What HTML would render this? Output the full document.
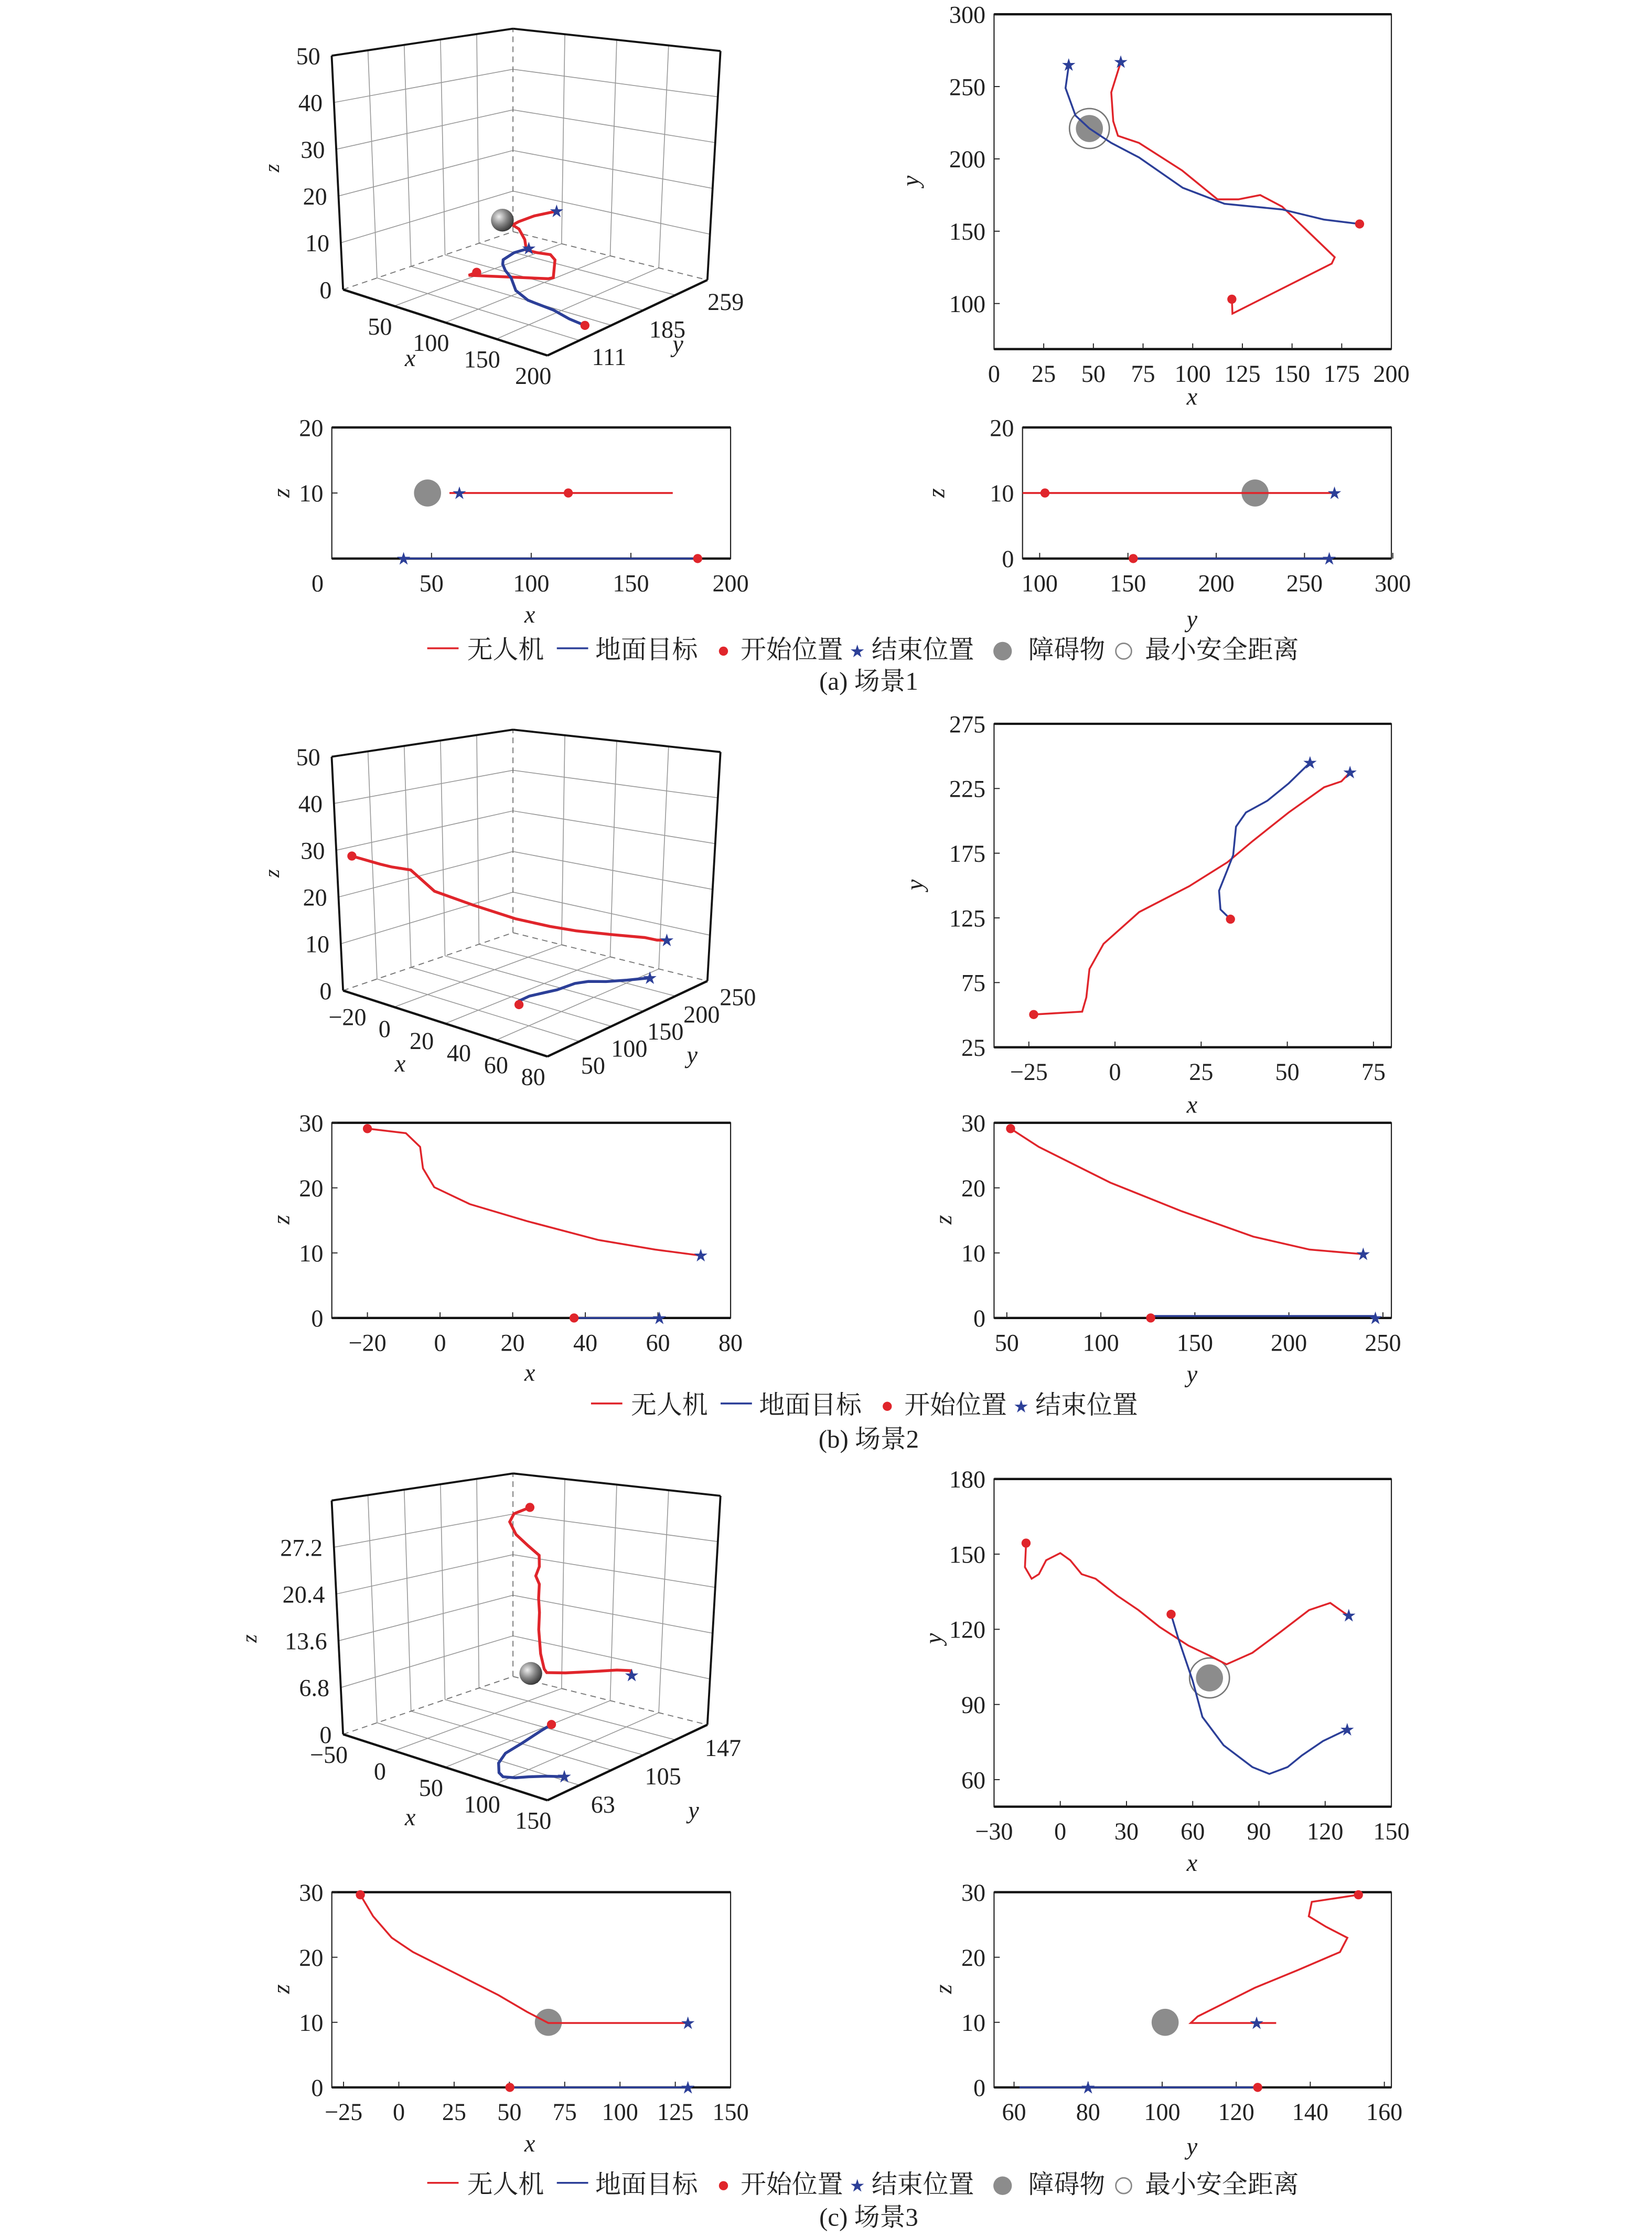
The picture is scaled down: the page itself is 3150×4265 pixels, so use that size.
<!DOCTYPE html>
<html><head><meta charset="utf-8">
<style>
html,body{margin:0;padding:0;background:#fff;}
svg{display:block;}
text{font-family:"Liberation Serif","Noto Serif CJK SC","Noto Sans CJK SC",serif;fill:#222;}
</style></head>
<body>
<svg id="fig" xmlns="http://www.w3.org/2000/svg" width="3150" height="4265" viewBox="0 0 1160 1570" preserveAspectRatio="none">
<defs>
<radialGradient id="sph" cx="0.35" cy="0.35" r="0.7">
<stop offset="0" stop-color="#eee"/><stop offset="0.5" stop-color="#888"/><stop offset="1" stop-color="#333"/>
</radialGradient>
</defs>
</svg>
<script>
// ---------- Scenario 1 data ----------
const a_uavX=[119.7,120,170,171.5,145,134,123,112.5,94.6,73,62.4,60,59,63.8];
const a_uavY=[103,93,127.6,132,167,175,172,172,192,211,216,226,246,267];
const a_uavZ=[10,10,10,10,10,10,10,10,10,10,10,10,10,10];
const a_tgtX=[184,166,145,123,116,95,73,59,48,41,36,37.6];
const a_tgtY=[155,158,165,168,169,180,201,211,221,230,249,265];
const a_tgtZ=[0,0,0,0,0,0,0,0,0,0,0,0];
const a_obs=[48,221,10];
// ---------- Scenario 2 data ----------
const b_uavX=[-23.6,-9.5,-8.3,-7.4,-3.3,7,21.5,32.6,40,50.4,60.7,65.7,68.2];
const b_uavY=[50.3,52.5,63.5,85.5,105,129.5,149.5,168,184.5,206.5,226,230.5,237.5];
const b_uavZ=[29.1,28.4,27.5,26,21,17.8,15.2,13.6,12.4,11.3,10.4,10,9.8];
const b_tgtX=[33.5,30.6,30.2,32.6,34.3,35.1,38,44.2,50.4,56.6];
const b_tgtY=[124,131.5,146,162,173.5,195.5,206.5,215.5,229,245];
const b_tgtZ=[0,0,0,0,0,0,0,0,0,0];
const b_xzX=[-20,-9.4,-5.5,-4.7,-1.6,8.2,23.9,43.5,59.2,71.8];
const b_xzZ=[29.1,28.4,26.3,23,20.1,17.5,14.9,12,10.5,9.6];
const b_yzY=[52,67,105,143,181,211,239.5];
const b_yzZ=[29.1,26.3,20.8,16.4,12.5,10.5,9.8];
// ---------- Scenario 3 data ----------
const c_uavX=[-15.5,-16,-13,-9.7,-6.4,0,4.5,9.7,16,25.8,35.4,45,58,67.6,75.3,87,99.8,112.7,122.3,128.8,130.7];
const c_uavY=[154.4,144.8,140.2,142,147.6,150.4,147.6,142,140.2,133.4,127.7,120.9,113.5,109.5,106,110.6,119,127.7,130.5,126.5,125.5];
const c_uavZ=[29.6,29,28,26,24,22.5,21,20,19,17.5,16,14.2,11.6,10,10,10,10,10,10,10,10];
const c_tgtX=[50.2,53.4,60,64.4,74,87,94.7,103,109.5,119,130];
const c_tgtY=[126,116.5,99.4,85,73.7,65,62.3,65,69.7,75.4,80];
const c_tgtZ=[0,0,0,0,0,0,0,0,0,0,0];
const c_xzX=[-17.4,-11.6,-3.2,6.4,25.8,45,58,67.6,130.7];
const c_xzZ=[29.6,26.3,23,20.8,17.5,14.2,11.6,9.9,9.9];
const c_yzY=[153,140.4,139.6,144.2,150,148,136.5,125,117.3,109.6,107.7,130.8];
const c_yzZ=[29.6,28.5,26.3,24.7,23,20.8,18,15.3,13.1,10.9,9.9,9.9];
const c_obs=[67.6,100.6,10];

const NS='http://www.w3.org/2000/svg';
const svg=document.getElementById('fig');
function el(tag,attrs,parent){const e=document.createElementNS(NS,tag);for(const k in attrs)e.setAttribute(k,attrs[k]);(parent||svg).appendChild(e);return e;}
function txt(s,x,y,size,parent,anchor,italic){const t=el('text',{x:x,y:y,'font-size':size,'text-anchor':anchor||'middle'},parent);if(italic)t.setAttribute('font-style','italic');t.textContent=s;return t;}
const RED='#e0252b',BLUE='#2c3f98';

function star(x,y,parent){const t=txt('★',x,y+3.5,10,parent);t.setAttribute('fill',BLUE);t.setAttribute('style','fill:'+BLUE);

return t;}
function dot(x,y,parent){const c=el('circle',{cx:x,cy:y,r:3.2,fill:RED},parent);

return c;}

// ---------- 2D plot ----------
function plot2d(c){
  const g=el('g',{});
  
  
  const sx=v=>c.x0+(v-c.xmin)/(c.xmax-c.xmin)*(c.x1-c.x0);
  const sy=v=>c.y1-(v-c.ymin)/(c.ymax-c.ymin)*(c.y1-c.y0);
  const fr=el('rect',{x:c.x0,y:c.y0,width:c.x1-c.x0,height:c.y1-c.y0,fill:'none',stroke:'#222','stroke-width':0.8},g);
  
  
  const tb=el('line',{x1:c.x0,x2:c.x1,y1:c.y0,y2:c.y0,stroke:'#111','stroke-width':1.6},g);
  
  
  const bb=el('line',{x1:c.x0,x2:c.x1,y1:c.y1,y2:c.y1,stroke:'#111','stroke-width':1.6},g);
  
  
  c.xticks.forEach(v=>{
    const X=sx(v);
    const tk=el('line',{x1:X,x2:X,y1:c.y1,y2:c.y1-4,stroke:'#222','stroke-width':0.7},g);
    
    
    const t=txt(String(v).replace('-','−'),X,c.y1+23,17,g);
    
    
  });
  c.yticks.forEach(v=>{
    const Y=sy(v);
    const tk=el('line',{x1:c.x0,x2:c.x0+4,y1:Y,y2:Y,stroke:'#222','stroke-width':0.7},g);
    
    
    const t=txt(String(v),c.x0-6,Y+6,17,g,'end');
    
    
  });
  const xl=txt(c.xlabel,c.xlx,c.xly,17,g,'middle',true);
  
  
  const yl=txt(c.ylabel,0,0,17,g,'middle',true);
  yl.setAttribute('transform','translate('+c.ylx+','+c.yly+') rotate(-90)');
  
  
  const clip='clip'+c.name;
  const cp=el('clipPath',{id:clip},g);el('rect',{x:c.x0,y:c.y0-4,width:c.x1-c.x0,height:c.y1-c.y0+8},cp);
  (c.obs||[]).forEach(o=>{
    if(o.safe){const s=el('circle',{cx:sx(o.x),cy:sy(o.y),r:14,fill:'none',stroke:'#777','stroke-width':1},g);
      
      }
    const ob=el('circle',{cx:sx(o.x),cy:sy(o.y),r:9.5,fill:'#8c8c8c'},g);
    
    
  });
  c.series.forEach(s=>{
    const d=s.xs.map((v,i)=>(i?'L':'M')+sx(v).toFixed(1)+','+sy(s.ys[i]).toFixed(1)).join('');
    const p=el('path',{d:d,fill:'none',stroke:s.color,'stroke-width':1.3,'clip-path':'url(#'+clip+')'},g);
    
    
    if(s.start){dot(sx(s.start[0]),sy(s.start[1]),g);}
    if(s.end){star(sx(s.end[0]),sy(s.end[1]),g);}
  });
}

// ---------- 3D plot ----------
const BOT=[[240.9,203.2],[384.4,249.5],[496.7,196.5],[360.2,162.6]];
const TOP=[[232.9,39.1],[378.6,54.8],[505.9,35.8],[360.2,20.1]];
function bil(C,u,v){return [
  C[0][0]*(1-u)*(1-v)+C[1][0]*u*(1-v)+C[2][0]*u*v+C[3][0]*(1-u)*v,
  C[0][1]*(1-u)*(1-v)+C[1][1]*u*(1-v)+C[2][1]*u*v+C[3][1]*(1-u)*v];}
function plot3d(c){
  const g=el('g',{transform:'translate(0,'+c.dy+')'});
  
  
  const P=(x,y,z)=>{const u=(x-c.xmin)/(c.xmax-c.xmin),v=(y-c.ymin)/(c.ymax-c.ymin),w=(z-c.zmin)/(c.zmax-c.zmin);
    const b=bil(BOT,u,v),t=bil(TOP,u,v);return [b[0]+(t[0]-b[0])*w,b[1]+(t[1]-b[1])*w];};
  const Q=(u,v,w)=>{const b=bil(BOT,u,v),t=bil(TOP,u,v);return [b[0]+(t[0]-b[0])*w,b[1]+(t[1]-b[1])*w];};
  function ln(p,q,col,wd,dash,name){const l=el('line',{x1:p[0],y1:p[1],x2:q[0],y2:q[1],stroke:col,'stroke-width':wd},g);
    if(dash)l.setAttribute('stroke-dasharray',dash);
    
    }
  const G='#999';
  const fr=[0.2,0.4,0.6,0.8];
  const zg=c.zgrid.map(z=>(z-c.zmin)/(c.zmax-c.zmin));
  fr.forEach(f=>{ln(Q(0,f,0),Q(0,f,1),G,0.6,null,'wall-grid-line');});
  [0.25,0.5,0.75].forEach(f=>{ln(Q(f,1,0),Q(f,1,1),G,0.6,null,'wall-grid-line');});
  zg.forEach(w=>{if(w>0&&w<1){ln(Q(0,0,w),Q(0,1,w),G,0.6,null,'wall-grid-line');ln(Q(0,1,w),Q(1,1,w),G,0.6,null,'wall-grid-line');}});
  [0.25,0.5,0.75].forEach(f=>{ln(Q(f,0,0),Q(f,1,0),G,0.6,null,'floor-grid-line');});
  fr.forEach(f=>{ln(Q(0,f,0),Q(1,f,0),G,0.6,null,'floor-grid-line');});
  ln(Q(0,0,0),Q(0,1,0),'#777',0.7,'4,3','floor-edge');
  ln(Q(0,1,0),Q(1,1,0),'#777',0.7,'4,3','floor-edge');
  ln(Q(0,1,0),Q(0,1,1),'#777',0.7,'4,3','back-edge');
  ln(Q(0,0,0),Q(0,0,1),'#111',1.4,null,'z-axis-line');
  ln(Q(0,0,1),Q(0,1,1),'#111',1.4,null,'top-edge');
  ln(Q(0,1,1),Q(1,1,1),'#111',1.4,null,'top-edge');
  ln(Q(1,1,1),Q(1,1,0),'#111',1.4,null,'right-edge');
  ln(Q(0,0,0),Q(1,0,0),'#111',1.6,null,'x-axis-line');
  ln(Q(1,0,0),Q(1,1,0),'#111',1.6,null,'y-axis-line');
  c.zticks.forEach(z=>{const p=P(c.xmin,c.ymin,z);const t=txt(String(z),p[0]-8,p[1]+6,17,g,'end');
    
    });
  c.xticks.forEach(x=>{const p=P(x,c.ymin,0);const t=txt(String(x).replace('-','−'),p[0]-10,p[1]+20,17,g,'middle');
    
    });
  c.yticks.forEach(y=>{const p=P(c.xmax,y,0);const t=txt(String(y),p[0]+30,p[1]+13,17,g,'middle');
    
    });
  const xl=txt('x',c.xl[0],c.xl[1]-c.dy,17,g,'middle',true);
  
  
  const yl=txt('y',c.yl[0],c.yl[1]-c.dy,17,g,'middle',true);
  
  
  const zl=txt('z',0,0,15,g,'middle',true);
  zl.setAttribute('transform','translate('+c.zl[0]+','+(c.zl[1]-c.dy)+') rotate(-90)');
  
  
  c.series.forEach(s=>{
    const d=s.xs.map((v,i)=>{const p=P(v,s.ys[i],s.zs[i]);return (i?'L':'M')+p[0].toFixed(1)+','+p[1].toFixed(1);}).join('');
    const pa=el('path',{d:d,fill:'none',stroke:s.color,'stroke-width':2},g);
    
    
    const p0=P(s.xs[0],s.ys[0],s.zs[0]);dot(p0[0],p0[1],g);
    const n=s.xs.length-1;const p1=P(s.xs[n],s.ys[n],s.zs[n]);star(p1[0],p1[1],g);
  });
  if(c.obs){const p=P(c.obs[0],c.obs[1],c.obs[2]);const o=el('circle',{cx:p[0],cy:p[1],r:8,fill:'url(#sph)'},g);
    
    }
}

// ---------- Legend ----------
function legend(y,x0,full){
  const g=el('g',{});
  
  
  let x=x0;
  const l1=el('line',{x1:x,x2:x+22,y1:y,y2:y,stroke:RED,'stroke-width':1.3},g);
  
  
  const t1=txt('无人机',x+28,y+7,18,g,'start');
  
  
  x+=91;
  const l2=el('line',{x1:x,x2:x+22,y1:y,y2:y,stroke:BLUE,'stroke-width':1.3},g);
  
  
  const t2=txt('地面目标',x+27,y+7,18,g,'start');
  
  
  x+=117;
  dot(x,y+2,g);
  const t3=txt('开始位置',x+12,y+7,18,g,'start');
  
  
  x+=94;
  star(x,y+2,g);
  const t4=txt('结束位置',x+10,y+7,18,g,'start');
  
  
  if(full){
    const c1=el('circle',{cx:704,cy:y+2,r:6.5,fill:'#8c8c8c'},g);
    
    
    const t5=txt('障碍物',722,y+7,18,g,'start');
    
    
    const c2=el('circle',{cx:789,cy:y+2,r:5.5,fill:'none',stroke:'#888','stroke-width':1},g);
    
    
    const t6=txt('最小安全距离',804,y+7,18,g,'start');
    
    
  }
}
function caption(s,y){const t=txt(s,610,y,18,svg,'middle');
  
  }

// ================= Scenario 1 =================
plot3d({name:'scenario1-3d',dy:0,xmin:0,xmax:200,ymin:87,ymax:290,zmin:0,zmax:50,zgrid:[0,10,20,30,40,50],
  xticks:[50,100,150,200],yticks:[111,185,259],zticks:[0,10,20,30,40,50],xl:[288,257],yl:[476,247],zl:[196,118],obs:a_obs,
  series:[{name:'uav-path-3d',color:RED,xs:a_uavX,ys:a_uavY,zs:a_uavZ},{name:'target-path-3d',color:BLUE,xs:a_tgtX,ys:a_tgtY,zs:a_tgtZ}]});
plot2d({name:'scenario1-xy',x0:698,x1:977,y0:10,y1:245,xmin:0,xmax:200,ymin:68.5,ymax:300,
  xticks:[0,25,50,75,100,125,150,175,200],yticks:[100,150,200,250,300],xlabel:'x',xlx:837,xly:284,ylabel:'y',ylx:645,yly:127,
  obs:[{x:48,y:221,safe:true}],
  series:[{name:'uav-path-xy',color:RED,xs:a_uavX,ys:a_uavY,start:[a_uavX[0],a_uavY[0]],end:[a_uavX[a_uavX.length-1],a_uavY[a_uavY.length-1]]},
          {name:'target-path-xy',color:BLUE,xs:a_tgtX,ys:a_tgtY,start:[a_tgtX[0],a_tgtY[0]],end:[a_tgtX[a_tgtX.length-1],a_tgtY[a_tgtY.length-1]]}]});
plot2d({name:'scenario1-xz',x0:233,x1:513,y0:300,y1:392,xmin:0,xmax:200,ymin:0,ymax:20,
  xticks:[50,100,150,200],yticks:[10,20],xlabel:'x',xlx:372,xly:437,ylabel:'z',ylx:203,yly:346,
  obs:[{x:48,y:10}],
  series:[{name:'uav-path-xz',color:RED,xs:[59,171],ys:[10,10],start:[118.6,10],end:[64,10]},
          {name:'target-path-xz',color:BLUE,xs:[36,183.5],ys:[0,0],start:[183.5,0],end:[36,0]}]});
const z0a=txt('0',223,415,17);

plot2d({name:'scenario1-yz',x0:718,x1:977,y0:300,y1:392,xmin:90.3,xmax:299.2,ymin:0,ymax:20,
  xticks:[100,150,200,250,300],yticks:[0,10,20],xlabel:'y',xlx:837,xly:440,ylabel:'z',ylx:663,yly:346,
  obs:[{x:222,y:10}],
  series:[{name:'uav-path-yz',color:RED,xs:[90.3,267],ys:[10,10],start:[103,10],end:[267,10]},
          {name:'target-path-yz',color:BLUE,xs:[153,264],ys:[0,0],start:[153,0],end:[264,0]}]});
legend(455,300,true);
caption('(a) 场景1',484);

// ================= Scenario 2 =================
plot3d({name:'scenario2-3d',dy:492,xmin:-30,xmax:80,ymin:46,ymax:267,zmin:0,zmax:50,zgrid:[0,10,20,30,40,50],
  xticks:[-20,0,20,40,60,80],yticks:[50,100,150,200,250],zticks:[0,10,20,30,40,50],xl:[281,752],yl:[486,746],zl:[196,613],
  series:[{name:'uav-path-3d',color:RED,xs:b_uavX,ys:b_uavY,zs:b_uavZ},{name:'target-path-3d',color:BLUE,xs:b_tgtX,ys:b_tgtY,zs:b_tgtZ}]});
plot2d({name:'scenario2-xy',x0:698,x1:977,y0:508,y1:735,xmin:-35.1,xmax:80.2,ymin:25,ymax:275,
  xticks:[-25,0,25,50,75],yticks:[25,75,125,175,225,275],xlabel:'x',xlx:837,xly:781,ylabel:'y',ylx:648,yly:621,
  series:[{name:'uav-path-xy',color:RED,xs:b_uavX,ys:b_uavY,start:[b_uavX[0],b_uavY[0]],end:[b_uavX[b_uavX.length-1],b_uavY[b_uavY.length-1]]},
          {name:'target-path-xy',color:BLUE,xs:b_tgtX,ys:b_tgtY,start:[b_tgtX[0],b_tgtY[0]],end:[b_tgtX[b_tgtX.length-1],b_tgtY[b_tgtY.length-1]]}]});
plot2d({name:'scenario2-xz',x0:233,x1:513,y0:788,y1:925,xmin:-29.8,xmax:80,ymin:0,ymax:30,
  xticks:[-20,0,20,40,60,80],yticks:[0,10,20,30],xlabel:'x',xlx:372,xly:969,ylabel:'z',ylx:203,yly:856,
  series:[{name:'uav-path-xz',color:RED,xs:b_xzX,ys:b_xzZ,start:[b_xzX[0],b_xzZ[0]],end:[b_xzX[b_xzX.length-1],b_xzZ[b_xzZ.length-1]]},
          {name:'target-path-xz',color:BLUE,xs:[36.9,60.4],ys:[0,0],start:[36.9,0],end:[60.4,0]}]});
plot2d({name:'scenario2-yz',x0:698,x1:977,y0:788,y1:925,xmin:43.2,xmax:254.5,ymin:0,ymax:30,
  xticks:[50,100,150,200,250],yticks:[0,10,20,30],xlabel:'y',xlx:837,xly:970,ylabel:'z',ylx:668,yly:856,
  series:[{name:'uav-path-yz',color:RED,xs:b_yzY,ys:b_yzZ,start:[b_yzY[0],b_yzZ[0]],end:[b_yzY[b_yzY.length-1],b_yzZ[b_yzZ.length-1]]},
          {name:'target-path-yz',color:BLUE,xs:[126.5,246],ys:[0.3,0.3],start:[126.5,0],end:[246,0]}]});
legend(985,415,false);
caption('(b) 场景2',1016);

// ================= Scenario 3 =================
plot3d({name:'scenario3-3d',dy:1014,xmin:-50,xmax:150,ymin:54,ymax:166,zmin:0,zmax:34,zgrid:[0,6.8,13.6,20.4,27.2,34],
  xticks:[-50,0,50,100,150],yticks:[63,105,147],zticks:[0,6.8,13.6,20.4,27.2],xl:[288,1281],yl:[487,1276],zl:[180,1150],obs:c_obs,
  series:[{name:'uav-path-3d',color:RED,xs:c_uavX,ys:c_uavY,zs:c_uavZ},{name:'target-path-3d',color:BLUE,xs:c_tgtX,ys:c_tgtY,zs:c_tgtZ}]});
plot2d({name:'scenario3-xy',x0:698,x1:977,y0:1038,y1:1268,xmin:-30,xmax:150,ymin:49.2,ymax:180,
  xticks:[-30,0,30,60,90,120,150],yticks:[60,90,120,150,180],xlabel:'x',xlx:837,xly:1313,ylabel:'y',ylx:661,yly:1150,
  obs:[{x:c_obs[0],y:c_obs[1],safe:true}],
  series:[{name:'uav-path-xy',color:RED,xs:c_uavX,ys:c_uavY,start:[c_uavX[0],c_uavY[0]],end:[c_uavX[c_uavX.length-1],c_uavY[c_uavY.length-1]]},
          {name:'target-path-xy',color:BLUE,xs:c_tgtX,ys:c_tgtY,start:[c_tgtX[0],c_tgtY[0]],end:[c_tgtX[c_tgtX.length-1],c_tgtY[c_tgtY.length-1]]}]});
plot2d({name:'scenario3-xz',x0:233,x1:513,y0:1328,y1:1465,xmin:-30.3,xmax:150,ymin:0,ymax:30,
  xticks:[-25,0,25,50,75,100,125,150],yticks:[0,10,20,30],xlabel:'x',xlx:372,xly:1510,ylabel:'z',ylx:203,yly:1396,
  obs:[{x:67.6,y:10}],
  series:[{name:'uav-path-xz',color:RED,xs:c_xzX,ys:c_xzZ,start:[c_xzX[0],c_xzZ[0]],end:[130.7,9.9]},
          {name:'target-path-xz',color:BLUE,xs:[50.2,130.7],ys:[0,0],start:[50.2,0],end:[130.7,0]}]});
plot2d({name:'scenario3-yz',x0:698,x1:977,y0:1328,y1:1465,xmin:54.6,xmax:161.9,ymin:0,ymax:30,
  xticks:[60,80,100,120,140,160],yticks:[0,10,20,30],xlabel:'y',xlx:837,xly:1512,ylabel:'z',ylx:668,yly:1396,
  obs:[{x:100.8,y:10}],
  series:[{name:'uav-path-yz',color:RED,xs:c_yzY,ys:c_yzZ,start:[c_yzY[0],c_yzZ[0]],end:[125.5,9.9]},
          {name:'target-path-yz',color:BLUE,xs:[61.5,125.8],ys:[0,0],start:[125.8,0],end:[80,0]}]});
legend(1532,300,true);
caption('(c) 场景3',1562);
</script>
</body></html>
